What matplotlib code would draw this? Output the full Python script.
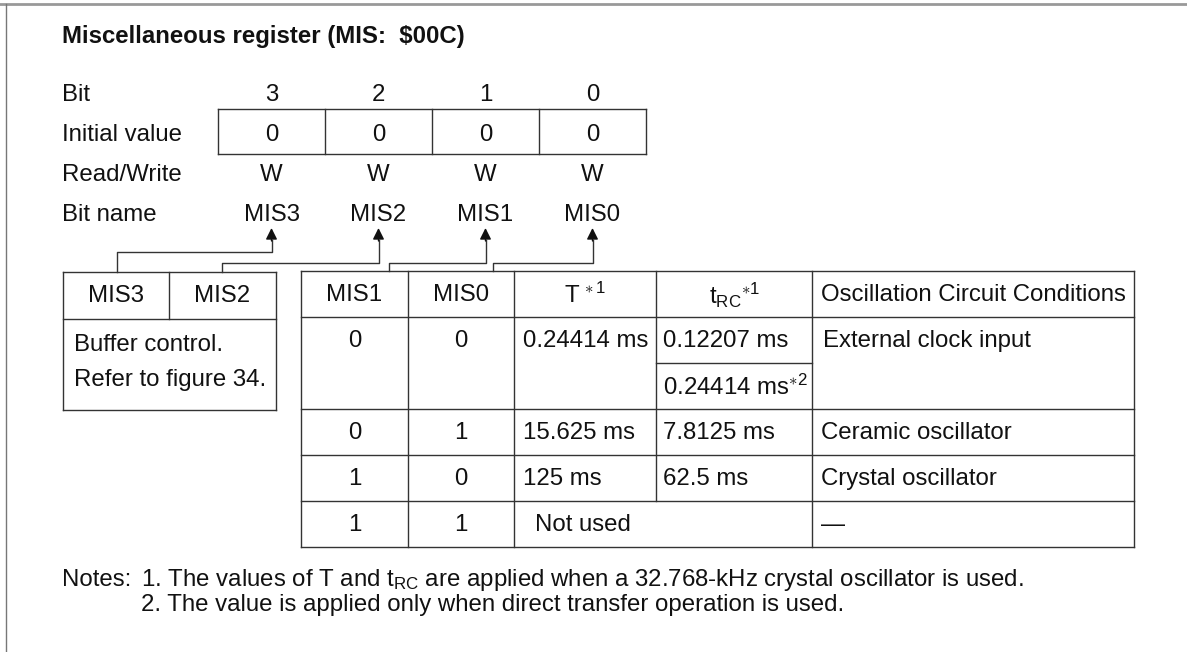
import matplotlib
matplotlib.use('Agg')
import matplotlib.pyplot as plt

plt.rcParams['font.family'] = ['Liberation Sans', 'DejaVu Sans']
plt.rcParams['mathtext.fontset'] = 'custom'
plt.rcParams['mathtext.rm'] = 'Liberation Sans'
plt.rcParams['mathtext.it'] = 'Liberation Sans:italic'
plt.rcParams['mathtext.bf'] = 'Liberation Sans:bold'

# ---- content ----
TITLE = 'Miscellaneous register (MIS:  $00C)'
ROW_LABELS = ['Bit', 'Initial value', 'Read/Write', 'Bit name']
BITS = ['3', '2', '1', '0']
INIT_VALUES = ['0', '0', '0', '0']
RW = ['W', 'W', 'W', 'W']
BIT_NAMES = ['MIS3', 'MIS2', 'MIS1', 'MIS0']

BUF_HEAD = ['MIS3', 'MIS2']
BUF_TEXT = ['Buffer control.', 'Refer to figure 34.']

OSC_HEAD = ['MIS1', 'MIS0', r'T$^{\,\ast 1}$',
            r'$\mathrm{t}_{\mathrm{RC}}{}^{\ast 1}$',
            'Oscillation Circuit Conditions']
MIS1_VALS = ['0', '0', '1', '1']
MIS0_VALS = ['0', '1', '0', '1']
T_VALS = ['0.24414 ms', '15.625 ms', '125 ms', 'Not used']
TRC_VALS = ['0.12207 ms', '7.8125 ms', '62.5 ms', '']
TRC_DIRECT = r'0.24414 ms$^{\ast 2}$'
OSC_VALS = ['External clock input', 'Ceramic oscillator', 'Crystal oscillator', '\u2014']

NOTES_LABEL = 'Notes:'
NOTES = [r'1. The values of T and t$_{\mathrm{RC}}$ are applied when a 32.768-kHz crystal oscillator is used.',
         '2. The value is applied only when direct transfer operation is used.']

# ---- layout (pixels) ----
FS = 17.3
DY = 3      # optical offset so glyphs sit centred like the reference
LC = '#333333'
LW = 1.0

fig = plt.figure(figsize=(11.87, 6.52), dpi=100)
ax = fig.add_axes([0, 0, 1, 1])
ax.set_xlim(0, 1187)
ax.set_ylim(652, 0)
ax.axis('off')


def hline(x0, x1, y, **kw):
    ax.plot([x0, x1], [y, y], color=kw.get('color', LC), lw=kw.get('lw', LW),
            solid_capstyle='projecting')


def vline(x, y0, y1, **kw):
    ax.plot([x, x], [y0, y1], color=kw.get('color', LC), lw=kw.get('lw', LW),
            solid_capstyle='projecting')


def txt(x, y, s, ha='left', **kw):
    ax.text(x, y + DY, s, ha=ha, va='center', fontsize=kw.pop('fontsize', FS),
            color='#111111', **kw)


# frame
hline(0, 1187, 4, color='#999999', lw=2.0)
vline(6, 4, 652, color='#777777', lw=1.0)

# title
txt(62, 34, TITLE, fontweight='bold')

# register rows
row_y = [92, 132, 172, 212]
for lab, y in zip(ROW_LABELS, row_y):
    txt(62, y, lab)

box_x0, box_x1 = 218, 646
cw = (box_x1 - box_x0) / len(BITS)
centers = [box_x0 + cw * (i + 0.5) for i in range(len(BITS))]
hline(box_x0, box_x1, 109)
hline(box_x0, box_x1, 154)
for i in range(len(BITS) + 1):
    vline(box_x0 + cw * i, 109, 154)
for cx, b, iv, rw, nm in zip(centers, BITS, INIT_VALUES, RW, BIT_NAMES):
    txt(cx, row_y[0], b, ha='center')
    txt(cx, row_y[1], iv, ha='center')
    txt(cx, row_y[2], rw, ha='center')
    txt(cx, row_y[3], nm, ha='center')

# connectors from tables to bit names
conn = [(117, 272, 252), (222, 272, 263), (389, 271, 263), (493, 271, 263)]
for (sx, sy, hy), cx in zip(conn, centers):
    ax.plot([sx, sx, cx, cx], [sy, hy, hy, 240], color=LC, lw=LW)
    ax.annotate('', xy=(cx, 228), xytext=(cx, 241),
                arrowprops=dict(arrowstyle='-|>', color='#111111', lw=LW,
                                mutation_scale=17, shrinkA=0, shrinkB=0))

# buffer control box
bx0, bx1, bmid = 63, 276, 169
by0, byh, by1 = 272, 319, 410
hline(bx0, bx1, by0)
hline(bx0, bx1, byh)
hline(bx0, bx1, by1)
vline(bx0, by0, by1)
vline(bx1, by0, by1)
vline(bmid, by0, byh)
txt((bx0 + bmid) / 2, (by0 + byh) / 2 - 2, BUF_HEAD[0], ha='center')
txt((bmid + bx1) / 2, (by0 + byh) / 2 - 2, BUF_HEAD[1], ha='center')
txt(74, 342, BUF_TEXT[0])
txt(74, 377, BUF_TEXT[1])

# oscillation table
cols = [301, 408, 514, 656, 812, 1134]
rows = [271, 317, 409, 455, 501, 547]
sub_y = 363
for y in rows:
    hline(cols[0], cols[-1], y)
hline(cols[3], cols[4], sub_y)
for x in (cols[0], cols[1], cols[2], cols[4], cols[5]):
    vline(x, rows[0], rows[-1])
vline(cols[3], rows[0], rows[-2])

hy = (rows[0] + rows[1]) / 2
for i, h in enumerate(OSC_HEAD):
    txt((cols[i] + cols[i + 1]) / 2, hy - 2, h, ha='center')

for r in range(len(MIS1_VALS)):
    y = rows[r + 1] + 21 if r == 0 else (rows[r + 1] + rows[r + 2]) / 2 - 2
    txt((cols[0] + cols[1]) / 2, y, MIS1_VALS[r], ha='center')
    txt((cols[1] + cols[2]) / 2, y, MIS0_VALS[r], ha='center')
    tx = cols[2] + 9 if T_VALS[r] != 'Not used' else cols[2] + 21
    txt(tx, y, T_VALS[r])
    if TRC_VALS[r]:
        txt(cols[3] + 7, y, TRC_VALS[r])
    txt(cols[4] + 11 if r == 0 else cols[4] + 9, y, OSC_VALS[r])
txt(cols[3] + 7, (sub_y + rows[2]) / 2 - 2, TRC_DIRECT)

# notes
txt(62, 577, NOTES_LABEL)
txt(141, 577, NOTES[0])
txt(141, 602, NOTES[1])

fig.savefig('out.png', dpi=100, facecolor='white')
